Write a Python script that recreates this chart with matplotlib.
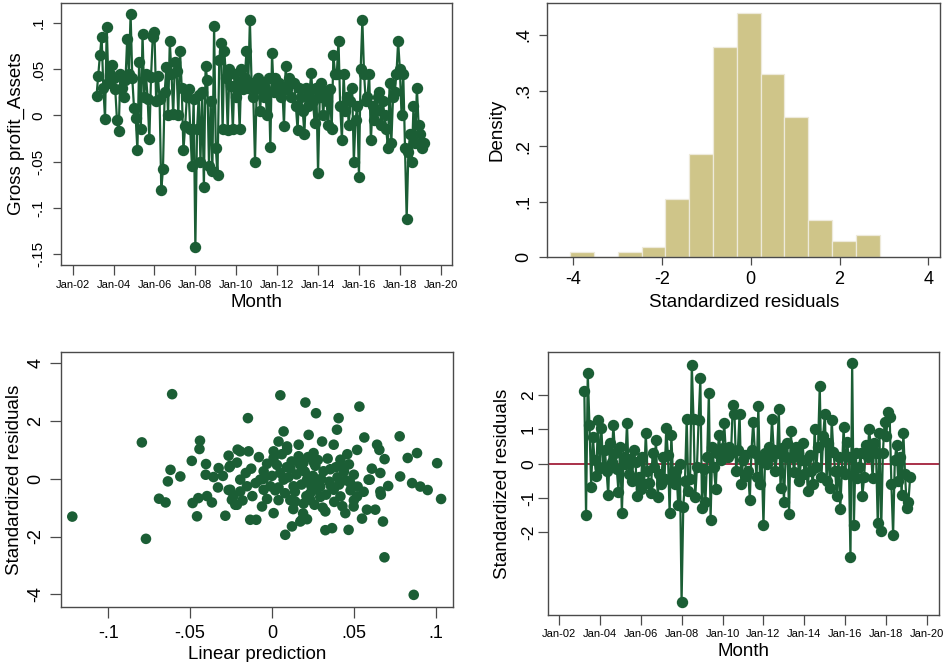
import numpy as np
import pandas as pd
import matplotlib
matplotlib.use("Agg")
import matplotlib.pyplot as plt

plt.rcParams['font.family'] = ['Liberation Sans', 'DejaVu Sans']

# ---------------- data ----------------
# Gross profit / Assets, monthly from Mar-2003
gross_profit_assets = [
    0.021, 0.043, 0.065, 0.085, 0.030, -0.004, 0.096, 0.035, 0.045, 0.055,
    0.040, 0.028, -0.005, -0.017, 0.045, 0.030, 0.020, 0.038, 0.083, 0.045, 0.110, 0.040,
    0.008, -0.003, -0.038, 0.058, -0.015, 0.088, 0.020, 0.045, 0.018, -0.026, 0.042, 0.085,
    0.090, 0.015, 0.043, 0.018, -0.081, -0.058, 0.025, 0.052, 0.000, 0.080, 0.045, 0.001,
    0.058, 0.048, 0.000, 0.070, 0.030, -0.038, -0.012, 0.020, 0.028, -0.015, -0.055, 0.018,
    -0.143, -0.015, 0.022, -0.050, 0.025, -0.078, 0.053, 0.038, -0.055, 0.015, -0.060, 0.097,
    -0.035, -0.065, 0.060, 0.078, -0.015, 0.070, 0.040, -0.016, 0.050, 0.032, -0.015, 0.045,
    0.020, 0.035, -0.015, 0.050, 0.028, 0.040, 0.070, 0.030, 0.103, 0.035, 0.020, -0.050,
    0.030, 0.040, 0.005, 0.035, 0.020, 0.030, 0.000, 0.040, -0.034, 0.067, 0.025, 0.040,
    0.025, 0.035, 0.020, 0.030, -0.011, 0.053, 0.028, 0.040, 0.020, 0.035, 0.035, 0.010,
    -0.016, 0.030, 0.020, 0.005, -0.020, 0.030, 0.010, 0.025, 0.046, 0.015, -0.008, 0.030,
    -0.062, 0.020, 0.035, 0.000, 0.025, 0.015, -0.010, 0.028, -0.015, 0.065, 0.045, 0.045,
    0.081, 0.010, -0.027, 0.045, 0.005, 0.020, -0.010, 0.015, 0.030, -0.050, -0.005, 0.010,
    -0.067, 0.050, 0.103, 0.045, 0.015, 0.020, 0.045, -0.027, 0.010, -0.005, 0.005, 0.020,
    0.025, -0.010, 0.015, 0.000, -0.015, -0.035, 0.035, -0.030, 0.020, 0.025, 0.045, 0.080,
    0.050, 0.000, 0.045, -0.035, -0.112, -0.040, -0.020, -0.050, 0.010, -0.030, 0.030, -0.010,
    -0.020, -0.035, -0.030,
]
gp_start = "2003-03-01"

# Standardized residuals, monthly from Apr-2003
std_residuals = [
    2.10, -1.50, 2.65, 1.12, -0.67, 0.79, 0.10, -0.35, 1.27,
    -0.13, 1.03, -0.10, 0.40, -0.20, -0.91, 0.60, 0.05, 1.12, 0.30, -0.15, -0.81,
    0.50, -1.44, 0.20, 0.00, 1.17, -0.30, 0.15, -0.50, 0.40, 0.05, -0.95, -0.40,
    -0.75, 0.20, -0.60, 0.88, -0.20, -0.55, -0.85, 0.30, -0.10, 0.68, -0.98, -0.30,
    -0.60, 0.20, -0.45, 1.03, 0.25, -1.44, 0.83, -0.40, -0.60, -0.20, -1.20, 0.00,
    -4.03, -1.25, -0.50, 1.30, -0.80, -0.45, 2.87, 1.30, -0.98, -0.10, 1.27, 2.48,
    -1.30, -0.15, -1.10, 0.20, 2.07, -1.64, 0.50, -0.10, -0.75, 0.30, 0.83, 0.10,
    0.45, 1.17, 0.30, 0.20, 0.50, 0.30, 1.70, 1.46, -0.22, 0.40, 1.46, -0.60,
    0.10, 0.25, -0.35, -0.20, -1.05, 0.40, 1.22, 0.30, -0.40, 1.68, -0.60, 0.10,
    -1.78, 0.30, 0.00, 0.50, 0.20, 1.30, 0.40, -0.20, 0.30, 1.60, -0.70, 0.45,
    -1.10, 0.20, 0.60, -1.47, 0.95, 0.20, -0.25, 0.50, 0.30, -0.50, 0.10, 0.60,
    -0.30, 0.10, -0.80, 0.25, -0.20, -0.60, 1.00, -0.10, 0.50, 2.27, -0.40, 0.80,
    1.46, -0.50, 0.60, -0.70, 1.27, 0.35, -0.20, -0.93, 0.20, -1.33, -0.20, 1.07,
    -0.30, 0.63, 0.20, -2.72, 2.92, -1.78, 0.30, -0.42, -0.10, 0.30, -0.93, -0.40,
    0.53, 0.20, 1.00, 0.40, -0.42, 0.60, 0.30, -1.73, 0.90, -1.97, 0.30, 1.20,
    0.80, 1.50, 1.35, -0.60, -2.07, 0.10, 0.55, -0.50, 0.20, -0.90, 0.90, -0.30,
    -1.30, -1.10, -0.38,
]
resid_start = "2003-04-01"

# Histogram of standardized residuals (density per bin)
hist_first_edge = -4.074
hist_bin_width = 0.537
hist_density = [0.009, 0.0, 0.010, 0.019, 0.1055, 0.185, 0.379, 0.439,
                0.329, 0.253, 0.067, 0.0293, 0.0396]

# Residuals vs linear prediction (scatter)
scatter_pred = [
    -0.122, -0.0795, -0.077, -0.061, -0.069, -0.065, -0.0636, -0.062, -0.056, -0.049,
    -0.044, -0.0443, -0.0485, -0.0458, -0.045, -0.0403, -0.0405, -0.0397, -0.0367, -0.0357,
    -0.0326, -0.0285, -0.0265, -0.026, -0.0265, -0.0235, -0.0224, -0.021,
    -0.0147, 0.0051, 0.0204, 0.0269, 0.0071, 0.004, 0.0224, 0.0306, -0.0194, -0.0143,
    0.001, 0.0163, 0.0092, -0.0255, -0.0214, -0.0127, -0.003, -0.0051, 0.003, 0.0112,
    0.0193, 0.0265, 0.0315, -0.0194, -0.0153, -0.0255, -0.0072, -0.001, 0.0071, 0.0132,
    0.0214, 0.0275, -0.0214, -0.0061, 0.001, 0.004, 0.0112, 0.0193, -0.0133, -0.0096,
    0.0081, 0.0122, 0.0173, 0.0214, 0.0326, 0.0234, 0.0295,
    0.0534, 0.0407, 0.0397, 0.0377, 0.0564, 0.052, 0.0642, 0.0656, 0.0688, 0.078,
    0.0829, 0.0886, 0.1009, 0.1033, 0.0783, 0.0856, 0.0906, 0.0951, 0.0662, 0.0597,
    0.0662, 0.0665, 0.0631, 0.0678, 0.0687, 0.0866, 0.055, 0.0468, 0.0367, 0.0183,
    0.0142, 0.0234, 0.0326, 0.0448, 0.0499, 0.058, 0.059, 0.0479, 0.050, 0.0418,
    0.0438, 0.0356, 0.0377, 0.0295, 0.0418, 0.052, 0.0523, -0.0051, -0.0194, -0.0245,
    0.001, 0.0092, 0.0163, 0.0183, 0.0254, 0.0258,
    0.000, 0.005, 0.010, 0.015, 0.020, 0.025, 0.030, 0.035, 0.040, 0.045,
    -0.005, -0.010, 0.002, 0.008, 0.014, 0.018, 0.024, 0.028, 0.033, 0.038,
    0.043, 0.048, 0.012, 0.017, 0.022, 0.028, 0.034, 0.039, 0.044, 0.046,
    0.006, -0.008, -0.016, -0.012, -0.003, 0.004, 0.009, 0.021, 0.026, 0.031,
    0.036, 0.041, 0.013, 0.019, -0.018, -0.030, -0.033, 0.050, 0.056, 0.061,
    0.071, 0.047,
]
scatter_resid = [
    -1.31, 1.26, -2.08, 2.93, -0.69, -0.82, -0.09, 0.31, 0.08, 0.62,
    1.32, 1.03, -0.84, -1.30, -0.67, 0.51, 0.14, -0.60, -0.82, 0.06,
    0.37, -1.28, 0.80, 0.40, -0.39, -0.59, -0.90, 1.01,
    2.10, 2.89, 2.64, 2.27, 1.64, 1.29, 1.52, 1.29, 0.95, 0.95,
    0.95, 1.18, 1.00, 0.45, 0.56, 0.35, 0.52, 0.26, 0.48, 0.36,
    0.56, 0.45, 0.26, -0.03, -0.26, -0.38, -0.03, -0.26, -0.03, -0.26,
    -0.03, -0.38, -0.90, -0.96, -1.19, -0.74, -0.74, -0.86, -1.42, -1.42,
    -1.94, -1.65, -1.48, -1.40, -1.78, -0.50, -0.63,
    2.50, 2.10, 1.70, 1.18, 1.43, 1.00, 1.18, 1.00, 0.68, 1.47,
    0.72, 0.89, 0.54, -0.70, 0.08, -0.15, -0.27, -0.39, 0.20, -0.03,
    -0.44, -0.55, -1.07, -1.48, -2.72, -4.02, -1.38, -1.77, -1.71, -1.42,
    -0.79, -0.73, -1.13, -1.19, -0.96, -1.07, -0.03, -0.15, 0.14, 0.66,
    0.37, 0.33, -0.38, -0.27, -0.61, -0.61, -0.27, -0.38, -0.44, -0.73,
    0.72, 1.12, 0.78, 0.37, 0.89, 0.54,
    0.10, 0.20, 0.05, 0.15, 0.25, 0.10, 0.00, -0.10, 0.05, -0.05,
    0.00, -0.15, -0.40, -0.50, -0.45, -0.20, -0.25, -0.10, -0.55, -0.80,
    -0.95, -0.40, 0.60, 0.50, 0.75, 0.65, 0.70, 0.40, 0.25, 0.85,
    0.85, 0.75, 0.20, -0.60, -0.70, -0.30, 0.40, -0.60, -0.90, -1.00,
    -0.25, -0.20, -1.05, -1.20, -0.75, 0.10, -0.30, -0.75, -0.45, 0.35,
    -0.25, 0.50,
]

month_ticks = [2002, 2004, 2006, 2008, 2010, 2012, 2014, 2016, 2018, 2020]
month_tick_labels = ["Jan-02", "Jan-04", "Jan-06", "Jan-08", "Jan-10",
                     "Jan-12", "Jan-14", "Jan-16", "Jan-18", "Jan-20"]

# ---------------- style ----------------
GREEN = "#1b5e35"
KHAKI = "#cfc589"
RED = "#a3203a"
FRAME = "#4a4a4a"


def decimal_months(start, n):
    d = pd.date_range(start, periods=n, freq="MS")
    return np.asarray(d.year + (d.month - 1) / 12.0, dtype=float)


def style_axes(ax):
    for s in ax.spines.values():
        s.set_color(FRAME)
        s.set_linewidth(1.0)
    ax.tick_params(direction="out", length=6, width=0.9, color=FRAME)


fig = plt.figure(figsize=(9.44, 6.62), dpi=100)
W, H = 944.0, 662.0


def add_ax(x0, y0, x1, y1):
    return fig.add_axes([x0 / W, 1 - y1 / H, (x1 - x0) / W, (y1 - y0) / H])


# ---- Top-left: Gross profit_Assets over time ----
ax1 = add_ax(61, 3, 452, 265)
style_axes(ax1)
x_gp = decimal_months(gp_start, len(gross_profit_assets))
ax1.plot(x_gp, gross_profit_assets, color=GREEN, lw=1.6, marker="o", ms=7.2,
         mec=GREEN, mfc=GREEN)
ax1.set_xlim(2001.43, 2020.55)
ax1.set_ylim(-0.162, 0.1216)
ax1.set_xticks(month_ticks)
ax1.set_xticklabels(month_tick_labels, fontsize=8)
ax1.tick_params(axis="x", pad=4, length=7)
yt1 = [-0.15, -0.1, -0.05, 0, 0.05, 0.1]
ax1.set_yticks(yt1)
ax1.set_yticklabels(["-.15", "-.1", "-.05", "0", ".05", ".1"], rotation=90,
                    va="center", fontsize=11)
ax1.tick_params(axis="y", pad=5)
ax1.set_xlabel("Month", fontsize=13.5, labelpad=3)
ax1.set_ylabel("Gross profit_Assets", fontsize=13.5, labelpad=5)

# ---- Top-right: histogram ----
ax2 = add_ax(547.3, 2.7, 940, 257.3)
style_axes(ax2)
n_bins = len(hist_density)
left_edges = hist_first_edge + hist_bin_width * np.arange(n_bins)
ax2.bar(left_edges, hist_density, width=hist_bin_width, align="edge",
        color=KHAKI, edgecolor="#eeeadb", linewidth=0.9)
ax2.set_xlim(-4.586, 4.264)
ax2.set_ylim(0, 0.458)
ax2.set_xticks([-4, -2, 0, 2, 4])
ax2.set_xticklabels(["-4", "-2", "0", "2", "4"], fontsize=13)
ax2.set_yticks([0, 0.1, 0.2, 0.3, 0.4])
ax2.set_yticklabels(["0", ".1", ".2", ".3", ".4"], rotation=90, va="center",
                    fontsize=13)
ax2.tick_params(axis="x", pad=4)
ax2.tick_params(axis="y", pad=5)
ax2.set_xlabel("Standardized residuals", fontsize=13.5, labelpad=4)
ax2.set_ylabel("Density", fontsize=13.5, labelpad=7)

# ---- Bottom-left: residuals vs prediction ----
ax3 = add_ax(61, 352.3, 452.7, 606.7)
style_axes(ax3)
ax3.scatter(scatter_pred, scatter_resid, s=58, color=GREEN, edgecolors="none")
ax3.set_xlim(-0.1289, 0.1104)
ax3.set_ylim(-4.43, 4.38)
ax3.set_xticks([-0.1, -0.05, 0, 0.05, 0.1])
ax3.set_xticklabels(["-.1", "-.05", "0", ".05", ".1"], fontsize=13)
ax3.set_yticks([-4, -2, 0, 2, 4])
ax3.set_yticklabels(["-4", "-2", "0", "2", "4"], rotation=90, va="center",
                    fontsize=13)
ax3.tick_params(axis="x", pad=5, length=8)
ax3.tick_params(axis="y", pad=4, length=8)
ax3.set_xlabel("Linear prediction", fontsize=13.5, labelpad=3)
ax3.set_ylabel("Standardized residuals", fontsize=13.5, labelpad=3)

# ---- Bottom-right: residuals over time ----
ax4 = add_ax(547.7, 352.3, 939.3, 615)
style_axes(ax4)
x_res = decimal_months(resid_start, len(std_residuals))
ax4.axhline(0, color=RED, lw=1.3, zorder=1)
ax4.plot(x_res, std_residuals, color=GREEN, lw=1.6, marker="o", ms=7.2,
         mec=GREEN, mfc=GREEN, zorder=2)
ax4.set_xlim(2001.46, 2020.59)
ax4.set_ylim(-4.4, 3.24)
ax4.set_xticks(month_ticks)
ax4.set_xticklabels(month_tick_labels, fontsize=8)
ax4.set_yticks([-2, -1, 0, 1, 2])
ax4.set_yticklabels(["-2", "-1", "0", "1", "2"], rotation=90, va="center",
                    fontsize=12.5)
ax4.tick_params(axis="x", pad=3, length=7)
ax4.tick_params(axis="y", pad=1.5, length=7)
ax4.set_xlabel("Month", fontsize=13.5, labelpad=3)
ax4.set_ylabel("Standardized residuals", fontsize=13.5, labelpad=7)

fig.savefig("out.png", dpi=100, facecolor="white")
